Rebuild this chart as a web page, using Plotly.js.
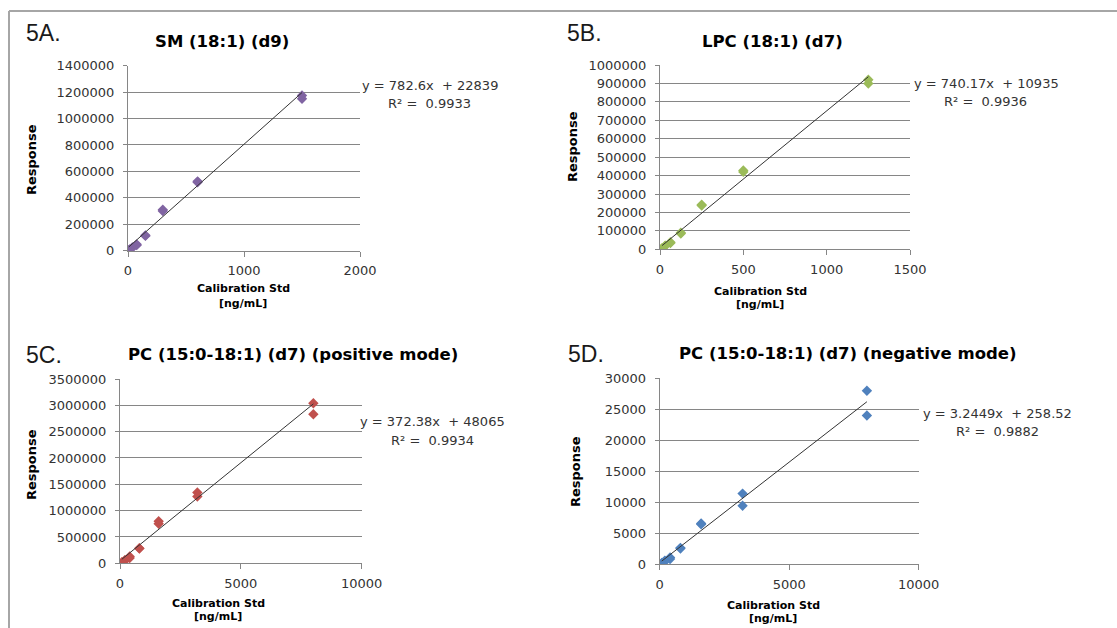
<!DOCTYPE html>
<html>
<head>
<meta charset="utf-8">
<script src="https://cdn.plot.ly/plotly-3.0.1.min.js"></script>
<style>html,body{margin:0;padding:0;background:#fff;}#chart{width:1117px;height:628px;}</style>
</head>
<body>
<div id="chart"></div>
<script>
// ---- Data ----
var concA = [1500, 1500, 600, 600, 300, 300, 150, 150, 75, 75, 37.5, 37.5, 15, 15, 7.5];
var respA = [1175000, 1150000, 525000, 518000, 310000, 300000, 116000, 112000, 48000, 42000, 24000, 22000, 9000, 8000, 4000];
var trendXA = [7.5, 1500];
var trendYA = [28709, 1196739];

var concB = [1250, 1250, 500, 500, 250, 250, 125, 125, 62.5, 62.5, 31.25, 31.25, 12.5, 12.5];
var respB = [920000, 900000, 428000, 420000, 242000, 238000, 90000, 86000, 38000, 34000, 20000, 18000, 6000, 5000];
var trendXB = [12.5, 1250];
var trendYB = [20187, 936148];

var concC = [8000, 8000, 3200, 3200, 1600, 1600, 800, 800, 400, 400, 200, 200, 80, 80];
var respC = [3040000, 2830000, 1345000, 1270000, 800000, 750000, 285000, 280000, 130000, 100000, 60000, 50000, 20000, 15000];
var trendXC = [80, 8000];
var trendYC = [77855, 3027105];

var concD = [8000, 8000, 3200, 3200, 1600, 1600, 800, 800, 400, 400, 200, 200, 80, 80];
var respD = [28000, 24000, 11400, 9450, 6600, 6450, 2650, 2550, 1100, 850, 600, 450, 200, 150];
var trendXD = [80, 8000];
var trendYD = [518, 26218];

var panelLabels = ["5A.", "5B.", "5C.", "5D."];
var panelTitles = ["SM (18:1) (d9)", "LPC (18:1) (d7)", "PC (15:0-18:1) (d7) (positive mode)", "PC (15:0-18:1) (d7) (negative mode)"];
var equations = ["y = 782.6x  + 22839", "y = 740.17x  + 10935", "y = 372.38x  + 48065", "y = 3.2449x  + 258.52"];
var r2Texts = ["R² =  0.9933", "R² =  0.9936", "R² =  0.9934", "R² =  0.9882"];
var xTitle = "Calibration Std<br>[ng/mL]";
var yTitle = "Response";

var colors = ["#8064A2", "#9BBB59", "#C0504D", "#4F81BD"];

// ---- Layout helpers ----
var W = 1117, H = 628;
function px(x) { return x / W; }
function py(y) { return 1 - y / H; }
function nb(s) { return s.replace(/ /g, "\u00A0"); }

var FAM = "Verdana, 'DejaVu Sans', sans-serif";
var tickFont = {family: FAM, size: 13, color: "#333"};

function xAxis(dom, range, dtick, anchor) {
  return {domain: dom, range: range, dtick: dtick, tick0: 0, anchor: anchor,
    showgrid: false, zeroline: false, showline: true, linecolor: "#868686", linewidth: 1,
    ticks: "outside", ticklen: 5, tickcolor: "#868686", tickfont: tickFont, tickformat: "d",
    ticklabelstandoff: 3, fixedrange: true};
}
function yAxis(dom, range, dtick, anchor) {
  return {domain: dom, range: range, dtick: dtick, tick0: 0, anchor: anchor,
    showgrid: true, gridcolor: "#868686", gridwidth: 1, zeroline: false, showline: true, linecolor: "#868686", linewidth: 1,
    ticks: "outside", ticklen: 4, tickcolor: "#868686", tickfont: tickFont, tickformat: "d",
    ticklabelstandoff: 6, fixedrange: true};
}

var plots = [
  {x: concA, y: respA, tx: trendXA, ty: trendYA, xa: "x", ya: "y"},
  {x: concB, y: respB, tx: trendXB, ty: trendYB, xa: "x2", ya: "y2"},
  {x: concC, y: respC, tx: trendXC, ty: trendYC, xa: "x3", ya: "y3"},
  {x: concD, y: respD, tx: trendXD, ty: trendYD, xa: "x4", ya: "y4"}
];

var traces = [];
plots.forEach(function (p, i) {
  traces.push({type: "scatter", mode: "markers", x: p.x, y: p.y, xaxis: p.xa, yaxis: p.ya,
    marker: {symbol: "diamond", size: 8, color: colors[i]}, showlegend: false, hoverinfo: "x+y"});
  traces.push({type: "scatter", mode: "lines", x: p.tx, y: p.ty, xaxis: p.xa, yaxis: p.ya,
    line: {color: "#333333", width: 1}, showlegend: false, hoverinfo: "skip"});
});

// pixel positions of annotations
var pos = [
  {lab: [24, 33], title: [222, 42], eq1: [430, 85], eq2: [429, 104], xt1: [243, 289], xt2: [243, 303], yt: [32, 160]},
  {lab: [565, 33], title: [772, 42], eq1: [986, 83], eq2: [985, 101], xt1: [760, 291], xt2: [760, 305], yt: [572, 147]},
  {lab: [24, 355], title: [293, 354], eq1: [432, 421], eq2: [432, 440], xt1: [218, 603], xt2: [218, 616], yt: [31, 465]},
  {lab: [566, 354], title: [848, 353], eq1: [997, 413], eq2: [997, 431], xt1: [773, 605], xt2: [773, 618], yt: [575, 472]}
];

var xTitleParts = xTitle.split("<br>");
var annotations = [];
function ann(xy, text, font, extra) {
  var a = {xref: "paper", yref: "paper", x: px(xy[0]), y: py(xy[1]), xanchor: "center", yanchor: "middle",
    text: text, showarrow: false, font: font};
  for (var k in extra) a[k] = extra[k];
  annotations.push(a);
}
pos.forEach(function (p, i) {
  ann(p.lab, panelLabels[i], {family: "Arial, 'Liberation Sans', sans-serif", size: 23, color: "#1a1a1a"}, {xanchor: "left"});
  ann(p.title, "<b>" + panelTitles[i] + "</b>", {family: FAM, size: 16.5, color: "#000"});
  ann(p.eq1, nb(equations[i]), {family: FAM, size: 13, color: "#333"});
  ann(p.eq2, nb(r2Texts[i]), {family: FAM, size: 13, color: "#333"});
  ann(p.xt1, "<b>" + xTitleParts[0] + "</b>", {family: FAM, size: 11, color: "#000"});
  ann(p.xt2, "<b>" + xTitleParts[1] + "</b>", {family: FAM, size: 11, color: "#000"});
  ann(p.yt, "<b>" + yTitle + "</b>", {family: FAM, size: 13, color: "#000"}, {textangle: -90});
});

var layout = {
  width: W, height: H,
  margin: {l: 0, r: 0, t: 0, b: 0},
  paper_bgcolor: "#fff", plot_bgcolor: "rgba(0,0,0,0)",
  showlegend: false,
  xaxis: xAxis([px(128), px(360)], [0, 2000], 1000, "y"),
  yaxis: yAxis([py(250.7), py(65.7)], [0, 1400000], 200000, "x"),
  xaxis2: xAxis([px(660), px(910)], [0, 1500], 500, "y2"),
  yaxis2: yAxis([py(249.3), py(65)], [0, 1000000], 100000, "x2"),
  xaxis3: xAxis([px(120), px(361.7)], [0, 10000], 5000, "y3"),
  yaxis3: yAxis([py(563.3), py(379)], [0, 3500000], 500000, "x3"),
  xaxis4: xAxis([px(659.7), px(918.7)], [0, 10000], 5000, "y4"),
  yaxis4: yAxis([py(564.3), py(378.3)], [0, 30000], 5000, "x4"),
  annotations: annotations,
  shapes: [
    {type: "line", xref: "paper", yref: "paper", x0: px(9), x1: 1, y0: py(11), y1: py(11), line: {color: "#a6a6a6", width: 2}},
    {type: "line", xref: "paper", yref: "paper", x0: px(9), x1: px(9), y0: py(11), y1: 0, line: {color: "#a6a6a6", width: 2}}
  ]
};

Plotly.newPlot("chart", traces, layout, {displayModeBar: false, staticPlot: true});
</script>
</body>
</html>
